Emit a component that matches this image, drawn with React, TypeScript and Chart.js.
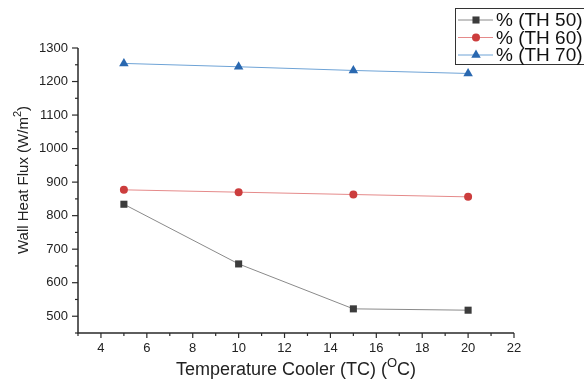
import React, { useEffect, useRef } from 'react';
import { Chart, registerables } from 'chart.js';

Chart.register(...registerables);

// ---- data ----
const coolerTemps = [5, 10, 15, 20];
const th50 = [834, 656, 522, 518];
const th60 = [877, 870, 863, 856];
const th70 = [1254, 1244, 1233, 1224];
const seriesLabels = ['% (TH 50)', '% (TH 60)', '% (TH 70)'];
const xTickValues = [4, 6, 8, 10, 12, 14, 16, 18, 20, 22];
const yTickValues = [500, 600, 700, 800, 900, 1000, 1100, 1200, 1300];
const xTitleParts = ['Temperature Cooler (TC) (', 'O', 'C)'];
const yTitleParts = ['Wall Heat Flux (W/m', '2', ')'];

const FONT = '"Liberation Sans", Arial, sans-serif';
const markerColors = ['#3c3c3c', '#cc3d3d', '#2a68b0'];
const lineColors = ['#8a8a8a', '#e58a8a', '#6ea3d6'];
const pointStyles = ['rect', 'circle', 'triangle'] as const;
const pointRadii = [5, 4, 5.5];

function drawRich(ctx: CanvasRenderingContext2D, parts: string[], cx: number, cy: number, size: number) {
  const supSize = Math.round(size * 0.7);
  const fonts = [`${size}px ${FONT}`, `${supSize}px ${FONT}`, `${size}px ${FONT}`];
  const widths = parts.map((p, i) => {
    ctx.font = fonts[i];
    return ctx.measureText(p).width;
  });
  const total = widths.reduce((a, b) => a + b, 0);
  let x = cx - total / 2;
  ctx.textAlign = 'left';
  ctx.textBaseline = 'middle';
  parts.forEach((p, i) => {
    ctx.font = fonts[i];
    const dy = i === 1 ? -size * 0.38 : 0;
    ctx.fillText(p, x, cy + dy);
    x += widths[i];
  });
}

function drawMarker(ctx: CanvasRenderingContext2D, style: string, x: number, y: number, r: number) {
  ctx.beginPath();
  if (style === 'rect') {
    const s = Math.SQRT1_2 * r;
    ctx.rect(x - s, y - s, 2 * s, 2 * s);
  } else if (style === 'circle') {
    ctx.arc(x, y, r, 0, Math.PI * 2);
  } else {
    const h = 1.5 * r;
    const half = (3 * r) / Math.sqrt(3) / 2;
    ctx.moveTo(x, y - r);
    ctx.lineTo(x + half, y - r + h);
    ctx.lineTo(x - half, y - r + h);
    ctx.closePath();
  }
  ctx.fill();
}

export default function App() {
  const ref = useRef<HTMLCanvasElement>(null);

  useEffect(() => {
    document.body.style.margin = '0';
    const canvas = ref.current;
    if (!canvas) return;
    const toPts = (ys: number[]) => coolerTemps.map((x, i) => ({ x, y: ys[i] }));

    const overlay = {
      id: 'overlay',
      beforeDatasetsDraw(chart: any) {
        const { ctx, chartArea: a, scales } = chart;
        const xs = scales.x;
        const ys = scales.y;
        ctx.save();
        ctx.strokeStyle = '#2a2a2a';
        ctx.lineWidth = 1.5;
        ctx.beginPath();
        ctx.moveTo(a.left, a.top);
        ctx.lineTo(a.left, a.bottom);
        ctx.lineTo(a.right, a.bottom);
        ctx.stroke();
        ctx.lineWidth = 1.2;
        for (let v = xs.min; v <= xs.max; v += 1) {
          const px = xs.getPixelForValue(v);
          const len = v % 2 === 0 ? 5 : 3;
          ctx.beginPath();
          ctx.moveTo(px, a.bottom);
          ctx.lineTo(px, a.bottom + len);
          ctx.stroke();
        }
        for (let v = ys.min; v <= ys.max; v += 50) {
          const py = ys.getPixelForValue(v);
          const len = v % 100 === 0 ? 6 : 3;
          ctx.beginPath();
          ctx.moveTo(a.left, py);
          ctx.lineTo(a.left - len, py);
          ctx.stroke();
        }
        ctx.restore();
      },
      afterDraw(chart: any) {
        const { ctx, chartArea: a } = chart;
        ctx.save();
        ctx.fillStyle = '#222';
        drawRich(ctx, xTitleParts, (a.left + a.right) / 2, 370, 18);
        ctx.save();
        ctx.translate(24, 180);
        ctx.rotate(-Math.PI / 2);
        drawRich(ctx, yTitleParts, 0, 0, 15);
        ctx.restore();

        // legend
        const bx = 455.5, by = 8.5, bw = 150, bh = 56;
        ctx.fillStyle = '#fff';
        ctx.fillRect(bx, by, bw, bh);
        ctx.strokeStyle = '#333';
        ctx.lineWidth = 1;
        ctx.strokeRect(bx, by, bw, bh);
        const rows = [20, 37.5, 55];
        chart.data.datasets.forEach((ds: any, i: number) => {
          const ry = rows[i];
          ctx.strokeStyle = lineColors[i];
          ctx.lineWidth = 1;
          ctx.beginPath();
          ctx.moveTo(458, ry);
          ctx.lineTo(493, ry);
          ctx.stroke();
          ctx.fillStyle = markerColors[i];
          drawMarker(ctx, pointStyles[i], 476, ry, pointRadii[i]);
          ctx.fillStyle = '#111';
          ctx.font = `19px ${FONT}`;
          ctx.textAlign = 'left';
          ctx.textBaseline = 'middle';
          ctx.fillText(ds.label, 496, ry + 1);
        });
        ctx.restore();
      },
    };

    const seriesData = [th50, th60, th70];
    const chart = new Chart(canvas, {
      type: 'line',
      data: {
        datasets: seriesData.map((ys, i) => ({
          label: seriesLabels[i],
          data: toPts(ys),
          borderColor: lineColors[i],
          borderWidth: 1,
          backgroundColor: markerColors[i],
          pointBackgroundColor: markerColors[i],
          pointBorderColor: markerColors[i],
          pointBorderWidth: 0,
          pointStyle: pointStyles[i],
          pointRadius: pointRadii[i],
          tension: 0,
          fill: false,
        })),
      },
      options: {
        animation: false,
        responsive: false,
        devicePixelRatio: 1,
        layout: { padding: { left: 0, top: 48, right: 70, bottom: 0 } },
        plugins: {
          legend: { display: false },
          tooltip: { enabled: false },
        },
        scales: {
          x: {
            type: 'linear',
            min: 3,
            max: 22,
            grid: { display: false, drawTicks: false },
            border: { display: false },
            ticks: {
              color: '#222',
              font: { family: FONT, size: 13 },
              padding: 8,
              callback: (v: any) => String(v),
            },
            afterBuildTicks: (s: any) => {
              s.ticks = xTickValues.map((v) => ({ value: v }));
            },
            afterFit: (s: any) => {
              s.height = 48;
            },
          },
          y: {
            type: 'linear',
            min: 450,
            max: 1300,
            grid: { display: false, drawTicks: false },
            border: { display: false },
            ticks: {
              color: '#222',
              font: { family: FONT, size: 13 },
              padding: 10,
              callback: (v: any) => String(v),
            },
            afterBuildTicks: (s: any) => {
              s.ticks = yTickValues.map((v) => ({ value: v }));
            },
            afterFit: (s: any) => {
              s.width = 78;
            },
          },
        },
      },
      plugins: [overlay],
    });
    return () => chart.destroy();
  }, []);

  return (
    <div style={{ position: 'fixed', left: 0, top: 0, width: 584, height: 381, background: '#fff' }}>
      <canvas ref={ref} width={584} height={381} />
    </div>
  );
}
